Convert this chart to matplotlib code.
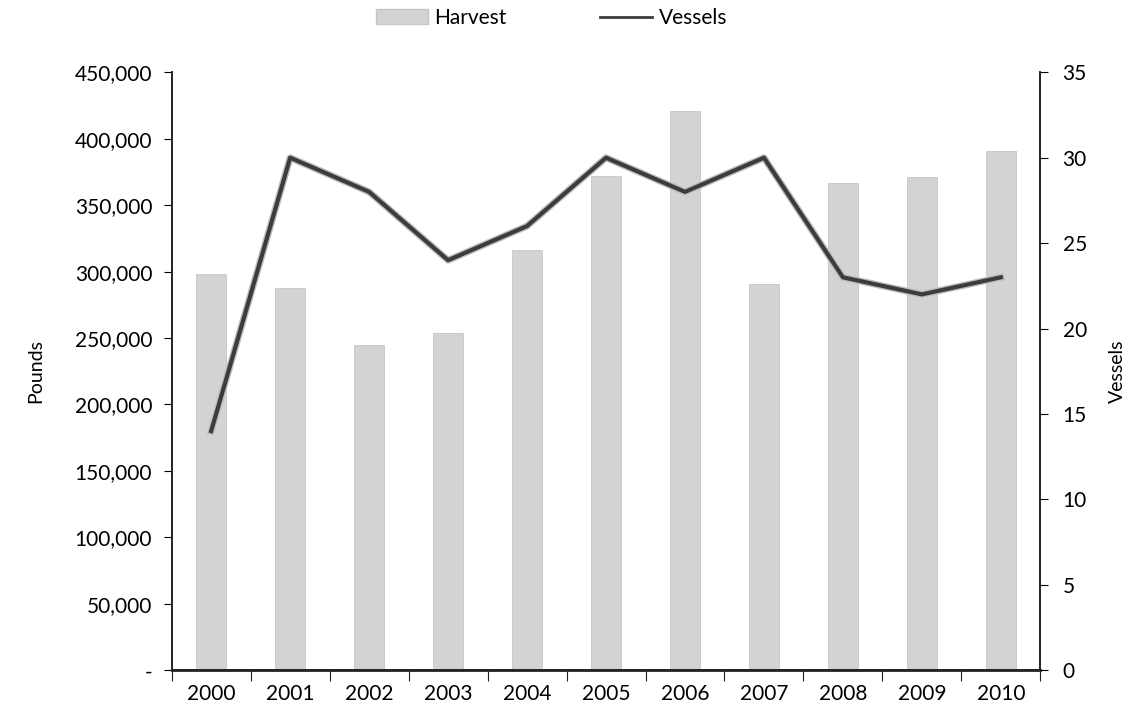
import matplotlib.pyplot as plt
from matplotlib.ticker import FuncFormatter, MultipleLocator
from matplotlib.lines import Line2D
from matplotlib.patches import Patch
import matplotlib.patheffects as pe

years = ["2000", "2001", "2002", "2003", "2004", "2005", "2006", "2007", "2008", "2009", "2010"]
harvest = [298000, 288000, 245000, 254000, 316000, 372000, 421000, 291000, 367000, 371000, 391000]
vessels = [14, 30, 28, 24, 26, 30, 28, 30, 23, 22, 23]

plt.rcParams['font.family'] = ['Lato', 'DejaVu Sans']

fig = plt.figure(figsize=(11.37, 7.23), dpi=100)
ax = fig.add_axes([0.151, 0.073, 0.764, 0.827])
ax2 = ax.twinx()

x = list(range(len(years)))
ax.bar(x, harvest, width=0.38, color="#d3d3d3", edgecolor="#c6c6c6", linewidth=0.6, zorder=2)
ax2.plot(x, vessels, color="#3c3c3c", linewidth=3,
         path_effects=[pe.Stroke(linewidth=5, foreground="#bdbdbd"), pe.Normal()], zorder=3)

ax.set_xlim(-0.5, len(years) - 0.5)
ax.set_ylim(0, 450000)
ax2.set_ylim(0, 35)
ax.yaxis.set_major_locator(MultipleLocator(50000))
ax2.yaxis.set_major_locator(MultipleLocator(5))
ax.yaxis.set_major_formatter(FuncFormatter(lambda v, p: "-" if v == 0 else f"{int(v):,}"))

# ticks between categories, labels centred on the bars
ax.set_xticks([i - 0.5 for i in range(len(years) + 1)])
ax.set_xticklabels([])
ax.set_xticks(x, minor=True)
ax.set_xticklabels(years, minor=True)
ax.tick_params(axis="x", which="major", length=8, direction="out", color="#222222")
ax.tick_params(axis="x", which="minor", length=0, pad=10, labelsize=15)
ax.tick_params(axis="y", length=6, direction="out", labelsize=15, pad=8)
ax2.tick_params(axis="y", length=6, direction="out", labelsize=15, pad=10)

for a in (ax, ax2):
    a.spines["top"].set_visible(False)
    for s in ("left", "right", "bottom"):
        a.spines[s].set_color("#222222")
        a.spines[s].set_linewidth(1.2)
ax.spines["bottom"].set_linewidth(2)

ax.set_ylabel("Pounds", fontsize=14, labelpad=22)
ax2.set_ylabel("Vessels", fontsize=14, labelpad=16)

handles = [Patch(facecolor="#d3d3d3", edgecolor="#c6c6c6"),
           Line2D([0], [0], color="#3c3c3c", linewidth=2)]
fig.legend(handles, ["Harvest", "Vessels"], loc="center", bbox_to_anchor=(0.485, 0.975),
           ncol=2, frameon=False, fontsize=15, columnspacing=4.5, handlelength=2.5,
           handletextpad=0.3)

fig.savefig("out.png", dpi=100)
